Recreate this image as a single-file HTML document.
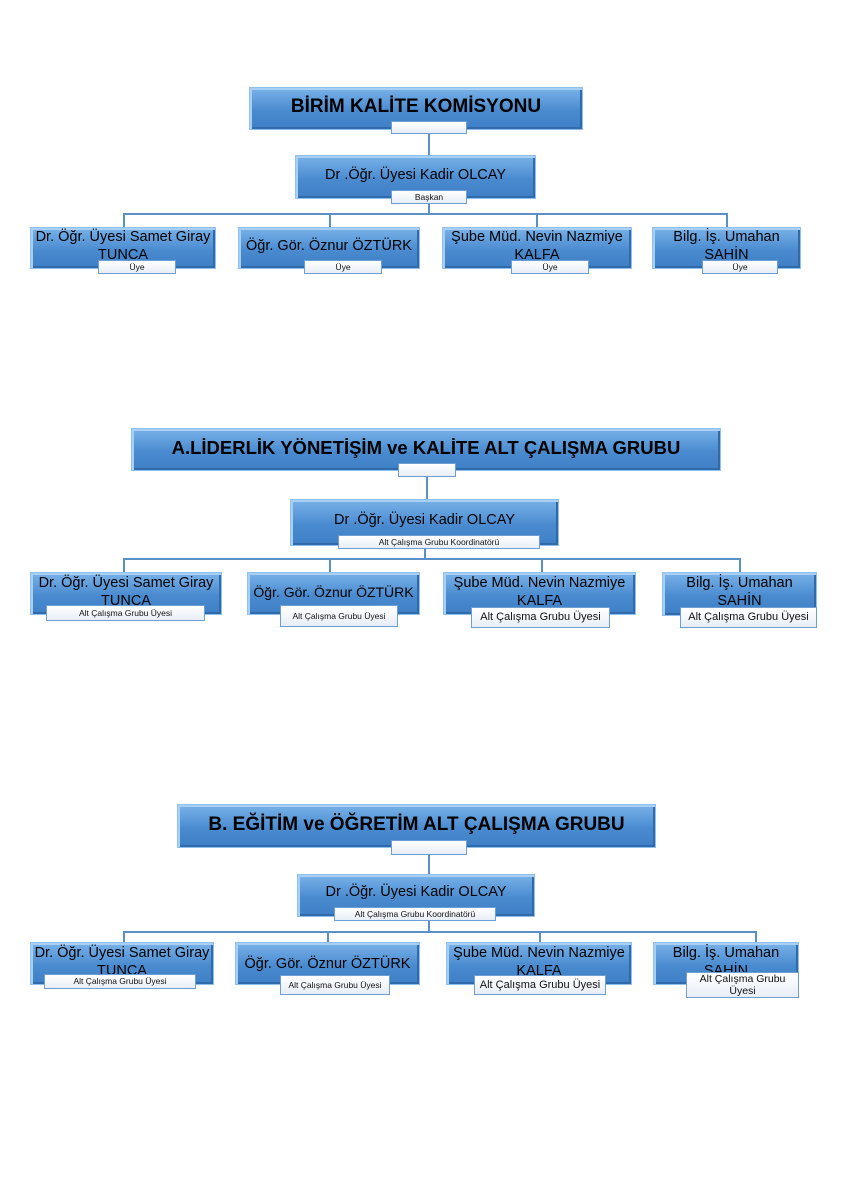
<!DOCTYPE html>
<html><head><meta charset="utf-8"><style>
body{margin:0;width:849px;height:1200px;background:#fff;position:relative;overflow:hidden;font-family:"Liberation Sans","DejaVu Sans",sans-serif}
.b{position:absolute;box-sizing:border-box;background:linear-gradient(#79b2e8,#4a8bd0 55%,#3f7fc5);border:1px solid #8fc0ee;box-shadow:inset 2px 2px 0 #a8d0f4,inset -2px -2px 0 #2f6aab;color:#000;text-align:center;line-height:18px;font-size:14.5px;overflow:visible}
.t{font-weight:bold;white-space:nowrap}
.n{white-space:nowrap}
.l{position:absolute;box-sizing:border-box;background:linear-gradient(#fff,#e8eef6);border:1px solid #6d9fd4;font-size:8.5px;text-align:center;line-height:12px;color:#111;white-space:nowrap;overflow:hidden}
.h{position:absolute;height:2px;background:#5b8fc8}
.v{position:absolute;width:2px;background:#5b8fc8}
</style></head><body>

<!-- Section 1 -->
<div class="b t" style="left:249px;top:87px;width:334px;height:43px;font-size:19px;line-height:38px">BİRİM KALİTE KOMİSYONU</div>
<div class="l" style="left:391px;top:121px;width:76px;height:13px"></div>
<div class="v" style="left:428px;top:134px;height:21px"></div>
<div class="b n" style="left:295px;top:155px;width:241px;height:44px;line-height:38px">Dr .Öğr. Üyesi Kadir OLCAY</div>
<div class="l" style="left:391px;top:190px;width:76px;height:14px">Başkan</div>
<div class="v" style="left:428px;top:204px;height:10px"></div>
<div class="h" style="left:123px;top:213px;width:604px"></div>
<div class="v" style="left:123px;top:213px;height:14px"></div>
<div class="v" style="left:329px;top:213px;height:14px"></div>
<div class="v" style="left:536px;top:213px;height:14px"></div>
<div class="v" style="left:726px;top:213px;height:14px"></div>
<div class="b" style="left:30px;top:227px;width:186px;height:42px">Dr. Öğr. Üyesi Samet Giray TUNCA</div>
<div class="l" style="left:98px;top:260px;width:78px;height:14px">Üye</div>
<div class="b n" style="left:238px;top:227px;width:182px;height:42px;line-height:36px">Öğr. Gör. Öznur ÖZTÜRK</div>
<div class="l" style="left:304px;top:260px;width:78px;height:14px">Üye</div>
<div class="b" style="left:442px;top:227px;width:190px;height:42px">Şube Müd. Nevin Nazmiye KALFA</div>
<div class="l" style="left:511px;top:260px;width:78px;height:14px">Üye</div>
<div class="b" style="left:652px;top:227px;width:149px;height:42px">Bilg. İş. Umahan SAHİN</div>
<div class="l" style="left:702px;top:260px;width:76px;height:14px">Üye</div>

<!-- Section 2 -->
<div class="b t" style="left:131px;top:428px;width:590px;height:43px;font-size:18.5px;line-height:38px">A.LİDERLİK YÖNETİŞİM ve KALİTE ALT ÇALIŞMA GRUBU</div>
<div class="l" style="left:398px;top:463px;width:58px;height:14px"></div>
<div class="v" style="left:426px;top:477px;height:22px"></div>
<div class="b n" style="left:290px;top:499px;width:269px;height:47px;line-height:40px">Dr .Öğr. Üyesi Kadir OLCAY</div>
<div class="l" style="left:338px;top:535px;width:202px;height:14px">Alt Çalışma Grubu Koordinatörü</div>
<div class="v" style="left:424px;top:549px;height:10px"></div>
<div class="h" style="left:123px;top:558px;width:618px"></div>
<div class="v" style="left:123px;top:558px;height:14px"></div>
<div class="v" style="left:329px;top:558px;height:14px"></div>
<div class="v" style="left:541px;top:558px;height:14px"></div>
<div class="v" style="left:739px;top:558px;height:14px"></div>
<div class="b" style="left:30px;top:572px;width:192px;height:43px;padding-top:1px">Dr. Öğr. Üyesi Samet Giray TUNCA</div>
<div class="l" style="left:46px;top:605px;width:159px;height:16px;line-height:14px">Alt Çalışma Grubu Üyesi</div>
<div class="b n" style="left:247px;top:572px;width:173px;height:43px;line-height:38px;font-size:14px">Öğr. Gör. Öznur ÖZTÜRK</div>
<div class="l" style="left:280px;top:605px;width:118px;height:22px;line-height:20px">Alt Çalışma Grubu Üyesi</div>
<div class="b" style="left:443px;top:572px;width:193px;height:43px;padding-top:1px">Şube Müd. Nevin Nazmiye KALFA</div>
<div class="l" style="left:471px;top:607px;width:139px;height:21px;font-size:11px;line-height:19px">Alt Çalışma Grubu Üyesi</div>
<div class="b" style="left:662px;top:572px;width:155px;height:44px;padding-top:1px">Bilg. İş. Umahan SAHİN</div>
<div class="l" style="left:680px;top:607px;width:137px;height:21px;font-size:11px;line-height:19px">Alt Çalışma Grubu Üyesi</div>

<!-- Section 3 -->
<div class="b t" style="left:177px;top:804px;width:479px;height:44px;font-size:19px;line-height:40px">B. EĞİTİM ve ÖĞRETİM ALT ÇALIŞMA GRUBU</div>
<div class="l" style="left:391px;top:840px;width:76px;height:15px"></div>
<div class="v" style="left:428px;top:855px;height:19px"></div>
<div class="b n" style="left:297px;top:874px;width:238px;height:43px;line-height:34px">Dr .Öğr. Üyesi Kadir OLCAY</div>
<div class="l" style="left:334px;top:907px;width:162px;height:14px">Alt Çalışma Grubu Koordinatörü</div>
<div class="v" style="left:428px;top:921px;height:10px"></div>
<div class="h" style="left:123px;top:931px;width:634px"></div>
<div class="v" style="left:123px;top:931px;height:11px"></div>
<div class="v" style="left:327px;top:931px;height:11px"></div>
<div class="v" style="left:539px;top:931px;height:11px"></div>
<div class="v" style="left:755px;top:931px;height:11px"></div>
<div class="b" style="left:30px;top:942px;width:184px;height:43px;padding-top:1px">Dr. Öğr. Üyesi Samet Giray TUNCA</div>
<div class="l" style="left:44px;top:974px;width:152px;height:15px;line-height:13px">Alt Çalışma Grubu Üyesi</div>
<div class="b n" style="left:235px;top:942px;width:185px;height:43px;line-height:42px">Öğr. Gör. Öznur ÖZTÜRK</div>
<div class="l" style="left:280px;top:975px;width:110px;height:20px;line-height:18px">Alt Çalışma Grubu Üyesi</div>
<div class="b" style="left:446px;top:942px;width:186px;height:43px;padding-top:1px">Şube Müd. Nevin Nazmiye KALFA</div>
<div class="l" style="left:474px;top:975px;width:132px;height:20px;font-size:11px;line-height:18px">Alt Çalışma Grubu Üyesi</div>
<div class="b" style="left:653px;top:942px;width:146px;height:43px;padding-top:1px">Bilg. İş. Umahan SAHİN</div>
<div class="l" style="left:686px;top:972px;width:113px;height:26px;font-size:10.5px;line-height:12px;white-space:normal">Alt Çalışma Grubu Üyesi</div>

</body></html>
